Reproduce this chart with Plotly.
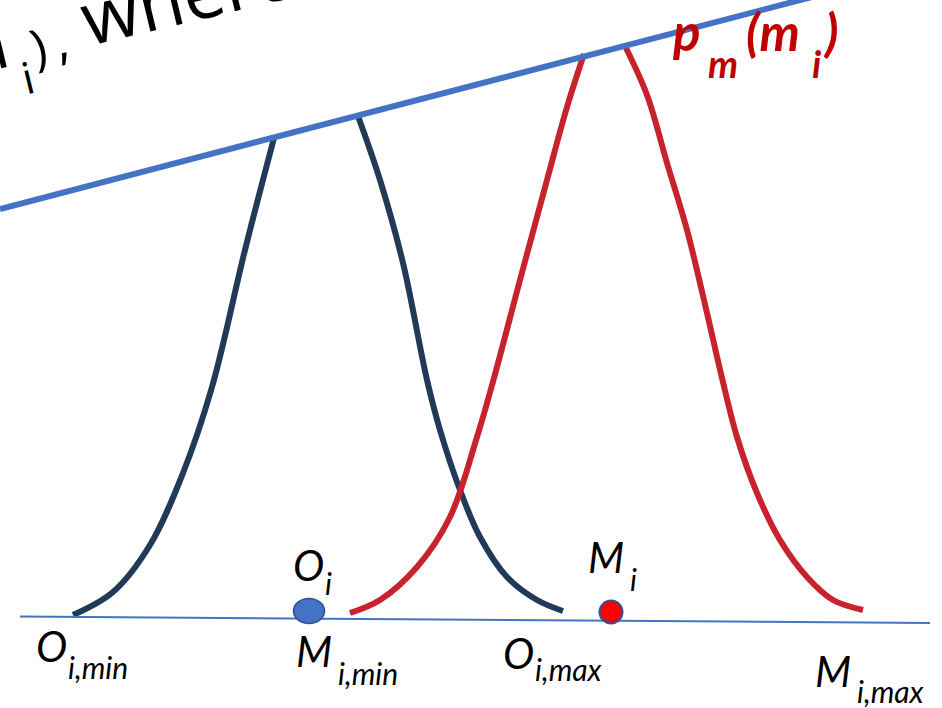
import plotly.graph_objects as go

# ---- canvas units (pixels, y grows downward) ----
W, H = 942, 708

# Two bell-shaped densities; their tops are hidden behind the slanted line,
# so each curve is a left and a right branch separated by a gap (None).
o_curve_x = [73, 113, 150, 183, 212, 245, 274,
             None,
             358, 380, 403, 427, 440, 460, 480, 507, 537, 563]
o_curve_y = [615, 592, 545, 473, 387, 250, 138,
             None,
             116, 180, 263, 380, 430, 490, 537, 577, 600, 611]

m_curve_x = [350, 380, 417, 450, 477, 494, 520, 547, 567, 584,
             None,
             624, 647, 667, 687, 707, 722, 737, 757, 780, 807, 833, 863]
m_curve_y = [613, 600, 567, 517, 437, 378, 280, 180, 107, 54,
             None,
             44, 95, 163, 230, 313, 378, 437, 493, 540, 577, 600, 610]

# slanted upper line and the horizontal axis line
upper_x = [0, 942]
upper_y = [209, -37]
base_x = [20, 930]
base_y = [616.5, 623]

# observed points on the axis
point_names = ["O_i", "M_i"]
point_x = [309, 611]
point_y = [611, 612]

BLUE = "#4472C4"
DARK = "#203A58"
RED = "#C8232C"
LABEL_RED = "#C00000"
LABEL_FONT = "Lato"

fig = go.Figure()

fig.add_trace(go.Scatter(x=o_curve_x, y=o_curve_y, mode="lines",
                         line=dict(color=DARK, width=6, shape="spline", smoothing=1),
                         connectgaps=False, hoverinfo="skip"))
fig.add_trace(go.Scatter(x=m_curve_x, y=m_curve_y, mode="lines",
                         line=dict(color=RED, width=6, shape="spline", smoothing=1),
                         connectgaps=False, hoverinfo="skip"))
fig.add_trace(go.Scatter(x=base_x, y=base_y, mode="lines",
                         line=dict(color=BLUE, width=2), hoverinfo="skip"))
fig.add_trace(go.Scatter(x=upper_x, y=upper_y, mode="lines",
                         line=dict(color=BLUE, width=6), hoverinfo="skip"))

# O_i: blue ellipse, M_i: red dot with blue rim
fig.add_shape(type="circle", xref="x", yref="y",
              x0=point_x[0] - 15.5, x1=point_x[0] + 15.5,
              y0=point_y[0] - 12.5, y1=point_y[0] + 12.5,
              fillcolor=BLUE, line=dict(color="#2F528F", width=1.5))
fig.add_shape(type="circle", xref="x", yref="y",
              x0=point_x[1] - 11.5, x1=point_x[1] + 11.5,
              y0=point_y[1] - 11.5, y1=point_y[1] + 11.5,
              fillcolor="#FF0000", line=dict(color="#2F528F", width=2))


def label(text, x_left, baseline, size, color="black", weight="normal",
          family=LABEL_FONT, metric=0.37):
    fig.add_annotation(x=x_left, y=baseline - metric * size, xref="x", yref="y",
                       text=text, showarrow=False, xanchor="left", yanchor="middle",
                       borderpad=0,
                       font=dict(family=family, size=size, color=color,
                                 style="italic", weight=weight))


# axis labels: (main letter, x, baseline), (subscript, x, baseline)
MAIN = 42
SUB = 30
label("O", 35, 662, MAIN)
label("i,min", 67, 678, SUB)
label("M", 295, 667, MAIN)
label("i,min", 337, 684, SUB)
label("O", 292, 581, MAIN)
label("i", 324, 594, SUB)
label("O", 502, 669, MAIN)
label("i,max", 534, 680, SUB)
label("M", 587, 573, MAIN)
label("i", 629, 590, SUB)
label("M", 814, 687, MAIN)
label("i,max", 856, 702, SUB)

# density label p_m(m_i)
label("p", 671, 50, 51, LABEL_RED, "bold")
label("m", 707, 77, 38, LABEL_RED, "bold")
label("(m", 745, 50, 51, LABEL_RED, "bold")
label("i", 811, 77, 38, LABEL_RED, "bold")
label(")", 822, 50, 51, LABEL_RED, "bold")

# rotated heading text running off the top-left corner
ANG = -13.5


def rot(text, cx, cy, size):
    fig.add_annotation(x=cx / W, y=1 - cy / H, xref="paper", yref="paper",
                       text=text, showarrow=False, textangle=ANG,
                       xanchor="center", yanchor="middle", borderpad=0,
                       font=dict(family="Open Sans", size=size, color="black"))


rot("m", -26, 47, 70)
rot("i", 27.5, 76.5, 44)
rot(")", 38.7, 46.3, 50)
rot(",", 60.5, 39.6, 50)
rot("where", 186.7, -6.2, 74)

fig.update_layout(
    width=W, height=H,
    margin=dict(l=0, r=0, t=0, b=0),
    paper_bgcolor="white", plot_bgcolor="white",
    showlegend=False,
    xaxis=dict(range=[0, W], visible=False, fixedrange=True),
    yaxis=dict(range=[H, 0], visible=False, fixedrange=True),
)

fig.write_html("out.html")
